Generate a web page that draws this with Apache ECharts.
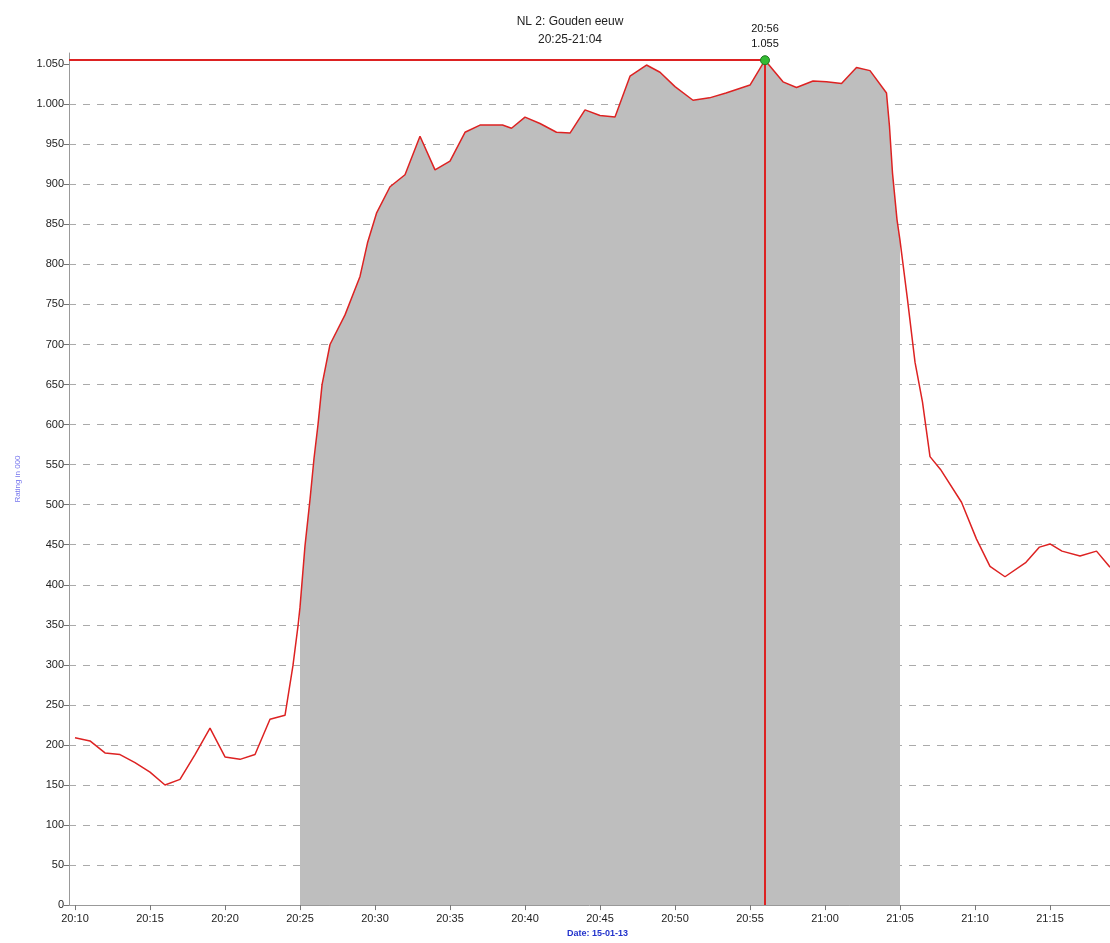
<!DOCTYPE html>
<html>
<head>
<meta charset="utf-8">
<script src="https://cdn.jsdelivr.net/npm/echarts@6/dist/echarts.min.js"></script>
<style>
  html, body { margin: 0; padding: 0; background: #fff; }
  #chart { width: 1110px; height: 943px; }
</style>
</head>
<body>
<div id="chart"></div>
<script>
  // minutes after 20:10
  const minutes = [0, 1, 2, 3, 4, 5, 6, 7, 8, 9, 10, 11, 12, 13, 14, 14.13, 14.53, 14.87, 15, 15.33, 15.67, 15.93, 16.2, 16.47, 17,
    18, 19, 19.5, 20.1, 21, 22, 23, 24, 25, 26, 27, 28.5, 29.1, 30, 31, 32.1, 33, 34, 35, 36, 37, 38.1, 39, 40,
    41.2, 42.3, 43.4, 45, 46, 47.2, 48.1, 49.2, 50.1, 51.1, 52.1, 53, 54.1, 54.3, 54.5, 54.8, 55, 55.5, 56, 56.5, 57,
    57.7, 59.1, 60.1, 61, 62, 63.4, 64.3, 65, 65.8, 67, 68.1, 69];
  const ratings = [209, 205, 190, 188, 178, 166, 150, 157, 188, 221, 185, 182, 188, 232, 237, 238, 299, 349, 372, 448, 507, 557, 600, 650, 700,
    737, 785, 827, 864, 897, 912, 960, 918, 929, 965, 974, 974, 970, 984, 976, 965, 964, 993, 986, 984, 1035, 1049, 1040, 1022,
    1005, 1008, 1014, 1024, 1055, 1028, 1021, 1029, 1028, 1026, 1046, 1042, 1014, 972, 914, 856, 830, 756, 678, 628, 560,
    544, 503, 457, 423, 410, 428, 447, 451, 442, 436, 442, 422];

  const xTicks = [0, 5, 10, 15, 20, 25, 30, 35, 40, 45, 50, 55, 60, 65];
  const yTicks = [0, 50, 100, 150, 200, 250, 300, 350, 400, 450, 500, 550, 600, 650, 700, 750, 800, 850, 900, 950, 1000, 1050];
  const highlightFrom = 15;  // 20:25
  const highlightTo = 55;    // 21:05
  const peakMinute = 46;     // 20:56
  const peakRating = 1055;

  const startHour = 20, startMin = 10;
  function clock(m) {
    const t = startHour * 60 + startMin + Math.round(m);
    return Math.floor(t / 60) + ':' + String(t % 60).padStart(2, '0');
  }
  function thousands(v) {
    if (v >= 1000) return Math.floor(v / 1000) + '.' + String(v % 1000).padStart(3, '0');
    return String(v);
  }

  const linePoints = minutes.map((m, i) => [m, ratings[i]]);
  const areaPoints = linePoints.filter(p => p[0] >= highlightFrom && p[0] <= highlightTo);

  const font = 'Liberation Sans, Arial, sans-serif';
  const chart = echarts.init(document.getElementById('chart'), null, { renderer: 'canvas' });

  const option = {
    backgroundColor: '#fff',
    animation: false,
    title: {
      text: 'NL 2: Gouden eeuw\n20:25-21:04',
      left: 565,
      top: 8,
      textAlign: 'center',
      textStyle: { fontFamily: font, fontSize: 12, fontWeight: 'normal', color: '#222', lineHeight: 18 }
    },
    grid: { left: 69, right: 0, top: 53, bottom: 35 },
    xAxis: {
      type: 'value',
      min: -0.4,
      max: 69,
      name: 'Date: 15-01-13',
      nameLocation: 'middle',
      nameGap: 22,
      nameTextStyle: { fontFamily: font, fontSize: 9, fontWeight: 'bold', color: '#2233cc', padding: [0, 0, 0, 16] },
      axisLine: { onZero: false, lineStyle: { color: '#999', width: 1 } },
      axisTick: { length: 5, lineStyle: { color: '#777' }, customValues: xTicks },
      axisLabel: { customValues: xTicks, formatter: clock, fontFamily: font, fontSize: 11, color: '#222', margin: 8 },
      splitLine: { show: false }
    },
    yAxis: {
      type: 'value',
      min: 0,
      max: 1064,
      interval: 50,
      name: 'Rating in 000',
      nameLocation: 'middle',
      nameRotate: 90,
      nameGap: 47,
      nameTextStyle: { fontFamily: font, fontSize: 8, color: '#7777ee' },
      axisLine: { show: true, onZero: false, lineStyle: { color: '#999', width: 1 } },
      axisTick: { show: true, length: 5, lineStyle: { color: '#777' }, customValues: yTicks },
      axisLabel: { customValues: yTicks, formatter: thousands, fontFamily: font, fontSize: 11, color: '#222', margin: 5 },
      splitLine: {
        show: true,
        showMinLine: false,
        showMaxLine: false,
        lineStyle: { color: '#aaa', type: [7, 7], width: 1 }
      }
    },
    series: [
      {
        name: 'highlight',
        type: 'line',
        data: areaPoints,
        symbol: 'none',
        lineStyle: { width: 0 },
        areaStyle: { color: '#bebebe', opacity: 1 },
        z: 1
      },
      {
        name: 'rating',
        type: 'line',
        data: linePoints,
        symbol: 'none',
        lineStyle: { color: '#dd2222', width: 1.5 },
        z: 3,
        markLine: {
          silent: true,
          symbol: 'none',
          label: { show: false },
          lineStyle: { color: '#dd2222', width: 2, type: 'solid' },
          data: [
            [{ coord: [-0.4, peakRating] }, { coord: [peakMinute, peakRating] }],
            [{ coord: [peakMinute, 0] }, { coord: [peakMinute, peakRating] }]
          ]
        }
      },
      {
        name: 'peak',
        type: 'scatter',
        data: [[peakMinute, peakRating]],
        symbolSize: 9,
        itemStyle: { color: '#33bb33', borderColor: '#227722', borderWidth: 1, opacity: 1 },
        label: {
          show: true,
          position: 'top',
          distance: 4,
          formatter: () => clock(peakMinute) + '\n' + thousands(peakRating),
          fontFamily: font,
          fontSize: 11,
          color: '#111',
          lineHeight: 15
        },
        z: 5
      }
    ]
  };
  chart.setOption(option);
</script>
</body>
</html>
